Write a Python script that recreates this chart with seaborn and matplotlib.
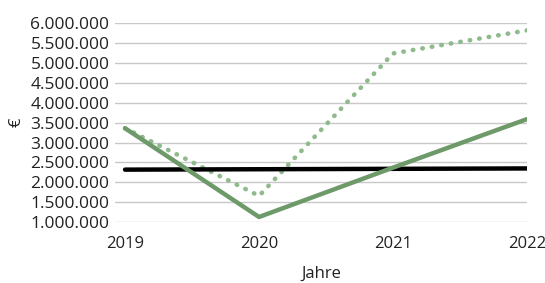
import matplotlib
matplotlib.use("Agg")
import matplotlib.pyplot as plt
import seaborn as sns
import pandas as pd
from matplotlib.ticker import FuncFormatter

years = [2019, 2020, 2021, 2022]
series_black = [2320000, 2330000, 2340000, 2350000]
series_solid = [3360000, 1130000, 2370000, 3590000]
series_dotted = [3360000, 1660000, 5240000, 5820000]
y_ticks = [1000000, 1500000, 2000000, 2500000, 3000000, 3500000, 4000000, 4500000, 5000000, 5500000, 6000000]

sns.set_style("white")
plt.rcParams['font.family'] = ['Open Sans', 'DejaVu Sans']

df = pd.DataFrame({"Jahr": years, "black": series_black, "solid": series_solid, "dotted": series_dotted})

fig, ax = plt.subplots(figsize=(5.45, 2.83), dpi=100)
fig.subplots_adjust(left=0.211, right=0.967, top=0.918, bottom=0.215)

for yv in y_ticks:
    ax.axhline(yv, color="#c8c8c8", lw=1.0, zorder=0)

sns.lineplot(data=df, x="Jahr", y="black", ax=ax, color="black", lw=3.2, zorder=3)
sns.lineplot(data=df, x="Jahr", y="dotted", ax=ax, color="#8fba8c", lw=3.3, zorder=2,
             linestyle=(0, (0.1, 2.0)), dash_capstyle="round")
sns.lineplot(data=df, x="Jahr", y="solid", ax=ax, color="#6e9a6a", lw=3.2, zorder=4)

ax.set_xlim(2018.925, 2022.0)
ax.set_ylim(1000000, 6000000)
ax.set_xticks(years)
ax.set_xticklabels([str(y) for y in years])
ax.set_yticks(y_ticks)
ax.yaxis.set_major_formatter(FuncFormatter(lambda v, p: f"{int(v):,}".replace(",", ".")))
ax.tick_params(axis='y', labelsize=12.5, colors="#222222", length=0, pad=4)
ax.tick_params(axis='x', labelsize=12, colors="#222222", length=0, pad=10)
ax.set_xlabel("Jahre", fontsize=12, color="#222222", labelpad=10)
ax.set_ylabel("€", fontsize=12, color="#222222", labelpad=4)
for s in ax.spines.values():
    s.set_visible(False)
ax.margins(x=0)

fig.savefig("out.png", dpi=100)
